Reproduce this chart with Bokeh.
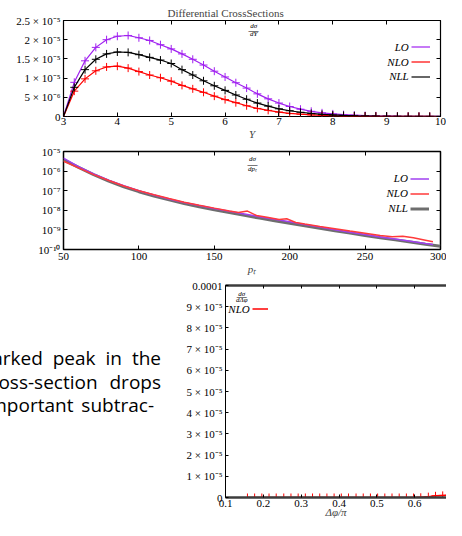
from bokeh.plotting import figure
from bokeh.models import (FixedTicker, LinearAxis, Label, Legend, LegendItem,
                          Div, Range1d)
from bokeh.layouts import column, row
from bokeh.embed import file_html
from bokeh.resources import INLINE

SERIF = "Liberation Serif"
SANS = "Open Sans"
PURPLE = "#a020f0"
RED = "#ff0000"
GREY = "#6e6e6e"

# ---------------- data: dsigma/dY ----------------
rapidity = [3.0, 3.2, 3.4, 3.6, 3.8, 4.0, 4.2, 4.4, 4.6, 4.8, 5.0, 5.2, 5.4, 5.6, 5.8, 6.0,
            6.2, 6.4, 6.6, 6.8, 7.0, 7.2, 7.4, 7.6, 7.8, 8.0, 8.2, 8.4, 8.6, 8.8, 9.0, 9.2,
            9.4, 9.6, 9.8, 10.0]
dY_LO = [0.0, 8.9e-6, 14.5e-6, 18.0e-6, 20.0e-6, 20.9e-6, 21.1e-6, 20.5e-6, 19.8e-6, 18.7e-6,
         17.6e-6, 16.3e-6, 14.9e-6, 13.4e-6, 11.8e-6, 10.3e-6, 8.8e-6, 7.4e-6, 5.9e-6, 4.6e-6,
         3.5e-6, 2.6e-6, 1.9e-6, 1.35e-6, 0.95e-6, 0.68e-6, 0.48e-6, 0.34e-6, 0.24e-6, 0.17e-6,
         0.12e-6, 0.08e-6, 0.055e-6, 0.04e-6, 0.028e-6, 0.02e-6]
dY_NLO = [0.0, 6.6e-6, 9.8e-6, 11.9e-6, 12.9e-6, 13.1e-6, 12.6e-6, 11.7e-6, 10.8e-6, 10.1e-6,
          9.2e-6, 8.1e-6, 7.2e-6, 6.3e-6, 5.3e-6, 4.4e-6, 3.6e-6, 2.8e-6, 2.1e-6, 1.6e-6,
          1.15e-6, 0.8e-6, 0.6e-6, 0.42e-6, 0.3e-6, 0.2e-6, 0.14e-6, 0.1e-6, 0.07e-6, 0.05e-6,
          0.03e-6, 0.02e-6, 0.015e-6, 0.01e-6, 0.007e-6, 0.005e-6]
dY_NLL = [0.0, 7.6e-6, 12.2e-6, 14.9e-6, 16.3e-6, 16.8e-6, 16.7e-6, 16.1e-6, 15.4e-6, 14.7e-6,
          13.8e-6, 12.2e-6, 10.8e-6, 9.3e-6, 8.0e-6, 6.8e-6, 5.6e-6, 4.5e-6, 3.5e-6, 2.7e-6,
          2.0e-6, 1.5e-6, 1.1e-6, 0.8e-6, 0.57e-6, 0.4e-6, 0.28e-6, 0.19e-6, 0.13e-6, 0.09e-6,
          0.06e-6, 0.04e-6, 0.028e-6, 0.02e-6, 0.014e-6, 0.01e-6]
y1_ticks = [0, 5e-6, 1e-5, 1.5e-5, 2e-5, 2.5e-5]
y1_labels = ["0", "5 × 10⁻⁶", "1 × 10⁻⁵", "1.5 × 10⁻⁵", "2 × 10⁻⁵", "2.5 × 10⁻⁵"]
x1_ticks = [3, 4, 5, 6, 7, 8, 9, 10]

# ---------------- data: dsigma/dpt ----------------
pt_LO = [50, 60, 70, 80, 90, 100, 110, 120, 130, 140, 150, 160, 170, 180, 190, 200, 210, 220,
         230, 240, 250, 260, 270, 280, 290, 295]
dpt_LO = [4.6e-6, 1.7e-6, 7.1e-7, 3.4e-7, 1.8e-7, 1.0e-7, 6.0e-8, 3.8e-8, 2.5e-8, 1.74e-8,
          1.23e-8, 8.9e-9, 6.5e-9, 4.7e-9, 3.5e-9, 2.6e-9, 1.9e-9, 1.4e-9, 1.03e-9, 7.6e-10,
          5.8e-10, 4.4e-10, 3.4e-10, 2.6e-10, 2.0e-10, 1.8e-10]
pt_NLO = [50, 60, 70, 80, 90, 100, 110, 120, 130, 140, 150, 160, 166, 172, 178, 185, 193, 198,
          204, 210, 220, 230, 240, 250, 260, 268, 275, 282, 290, 295]
dpt_NLO = [3.2e-6, 1.45e-6, 6.6e-7, 3.3e-7, 1.74e-7, 1.0e-7, 6.2e-8, 4.0e-8, 2.6e-8, 1.82e-8,
           1.29e-8, 9.3e-9, 7.8e-9, 9.1e-9, 5.4e-9, 4.4e-9, 3.4e-9, 3.7e-9, 2.4e-9, 2.0e-9,
           1.51e-9, 1.15e-9, 8.7e-10, 6.8e-10, 5.2e-10, 4.5e-10, 4.7e-10, 4.0e-10, 3.0e-10,
           2.5e-10]
pt_NLL = [50, 60, 70, 80, 90, 100, 110, 120, 130, 140, 150, 160, 170, 180, 190, 200, 210, 220,
          230, 240, 250, 260, 270, 280, 290, 300]
dpt_NLL = [3.8e-6, 1.55e-6, 6.6e-7, 3.1e-7, 1.58e-7, 8.9e-8, 5.4e-8, 3.4e-8, 2.24e-8, 1.51e-8,
           1.07e-8, 7.6e-9, 5.5e-9, 4.0e-9, 2.95e-9, 2.2e-9, 1.62e-9, 1.2e-9, 9.1e-10, 6.9e-10,
           5.2e-10, 4.0e-10, 3.1e-10, 2.4e-10, 1.86e-10, 1.45e-10]
y2_ticks = [1e-10, 1e-9, 1e-8, 1e-7, 1e-6, 1e-5]
y2_labels = ["10⁻¹⁰", "10⁻⁹", "10⁻⁸", "10⁻⁷", "10⁻⁶", "10⁻⁵"]
x2_ticks = [50, 100, 150, 200, 250, 300]

# ---------------- data: dsigma/dDeltaphi ----------------
dphi = [0.158, 0.177, 0.196, 0.215, 0.234, 0.254, 0.273, 0.292, 0.311, 0.330, 0.349, 0.368,
        0.387, 0.406, 0.425, 0.445, 0.464, 0.483, 0.502, 0.521, 0.540, 0.559, 0.578, 0.597,
        0.616, 0.636, 0.655, 0.674, 0.693]
dphi_NLO = [0.0, 0.0, 0.0, 0.0, 0.0, 0.0, 0.0, 0.0, 0.0, 0.0, 0.0, 0.0, 0.0, 0.0, 0.0, 0.0,
            0.0, 0.0, 0.0, 0.0, 0.0, 0.0, 0.0, 0.0, 0.1e-6, 0.4e-6, 0.8e-6, 1.0e-6, 1.1e-6]
y3_ticks = [0, 1e-5, 2e-5, 3e-5, 4e-5, 5e-5, 6e-5, 7e-5, 8e-5, 9e-5, 1e-4]
y3_labels = ["0", "1 × 10⁻⁵", "2 × 10⁻⁵", "3 × 10⁻⁵", "4 × 10⁻⁵", "5 × 10⁻⁵", "6 × 10⁻⁵",
             "7 × 10⁻⁵", "8 × 10⁻⁵", "9 × 10⁻⁵", "0.0001"]
x3_ticks = [0.1, 0.2, 0.3, 0.4, 0.5, 0.6, 0.7]

slide_lines = ["marked peak in the", "cross-section drops", "important subtrac-"]


def style_axis(ax, tick=4):
    ax.major_tick_in = tick
    ax.major_tick_out = 0
    ax.minor_tick_line_color = None
    ax.axis_line_color = None
    ax.major_tick_line_color = "black"
    ax.major_label_text_font = SERIF
    ax.major_label_text_font_size = "11px"
    ax.major_label_text_color = "black"
    ax.major_label_standoff = 3
    ax.axis_label_text_font = SERIF
    ax.axis_label_text_font_style = "italic"
    ax.axis_label_text_font_size = "11px"
    ax.axis_label_standoff = 0


def mirror_axis(p, ticks, place, tick=4):
    ax = LinearAxis(ticker=FixedTicker(ticks=ticks))
    style_axis(ax, tick)
    ax.major_label_overrides = {t: "" for t in ticks}
    ax.major_label_text_font_size = "1px"
    ax.major_label_text_color = None
    ax.major_label_standoff = 0
    p.add_layout(ax, place)
    return ax


def text_label(p, x, y, text, size="11px", align="right", style="italic"):
    p.add_layout(Label(x=x, y=y, text=text, text_align=align, text_baseline="middle",
                       text_font=SERIF, text_font_style=style, text_font_size=size,
                       text_color="black"))


def fraction(p, x, ys, num, den):
    text_label(p, x, ys[0], num, size="7px", align="center")
    text_label(p, x, ys[1], "—", size="10px", align="center", style="normal")
    text_label(p, x, ys[2], den, size="7px", align="center")


def sample_legend(p, renderers, loc, gw=19):
    leg = Legend(items=[LegendItem(label=" ", renderers=[r]) for r in renderers],
                 location=loc, glyph_width=gw, glyph_height=15, label_height=15,
                 label_width=0, label_standoff=0, label_text_font_size="2px",
                 padding=2, spacing=0, margin=0, border_line_color=None,
                 background_fill_alpha=0)
    p.add_layout(leg)


# ---------------- plot 1 ----------------
p1 = figure(width=446, height=142, x_range=Range1d(3, 10), y_range=Range1d(0, 2.5e-5),
            output_backend="svg", toolbar_location=None,
            min_border_left=63, min_border_right=6, min_border_top=20, min_border_bottom=23)
p1.grid.visible = False
p1.outline_line_color = "black"
p1.outline_line_width = 1.2
p1.title.text = "Differential CrossSections"
p1.title.text_font = SERIF
p1.title.text_font_style = "normal"
p1.title.text_font_size = "11px"
p1.title.align = "left"
p1.title.offset = 104
p1.title.standoff = 4
style_axis(p1.xaxis[0])
style_axis(p1.yaxis[0])
p1.xaxis[0].ticker = FixedTicker(ticks=x1_ticks)
p1.xaxis[0].major_label_standoff = 1
p1.yaxis[0].ticker = FixedTicker(ticks=y1_ticks)
p1.yaxis[0].major_label_overrides = dict(zip(y1_ticks, y1_labels))
p1.xaxis[0].axis_label = "Y"
mirror_axis(p1, x1_ticks, "above")
mirror_axis(p1, y1_ticks, "right")

rs = []
for ys, col in ((dY_LO, PURPLE), (dY_NLO, RED), (dY_NLL, "black")):
    rs.append(p1.line(rapidity, ys, line_color=col, line_width=1.2))
    p1.scatter(rapidity, ys, marker="cross", size=8, line_color=col, line_width=1)
sample_legend(p1, rs, (347.5, 31.6))
for txt, yy in (("LO", 1.805e-5), ("NLO", 1.424e-5), ("NLL", 1.043e-5)):
    text_label(p1, 9.41, yy, txt)
fraction(p1, 6.53, (2.345e-5, 2.246e-5, 2.147e-5), "dσ", "dY")

# ---------------- plot 2 ----------------
p2 = figure(width=446, height=135, x_range=Range1d(50, 300), y_range=Range1d(1e-10, 1e-5),
            y_axis_type="log", output_backend="svg", toolbar_location=None,
            min_border_left=63, min_border_right=6, min_border_top=9, min_border_bottom=27)
p2.grid.visible = False
p2.outline_line_color = "black"
p2.outline_line_width = 1.5
style_axis(p2.xaxis[0])
style_axis(p2.yaxis[0])
p2.xaxis[0].ticker = FixedTicker(ticks=x2_ticks)
p2.yaxis[0].ticker = FixedTicker(ticks=y2_ticks)
p2.yaxis[0].major_label_overrides = dict(zip(y2_ticks, y2_labels))
p2.xaxis[0].axis_label = "pₜ"
mirror_axis(p2, x2_ticks, "above")
mirror_axis(p2, y2_ticks, "right")

r_nll = p2.line(pt_NLL, dpt_NLL, line_color=GREY, line_width=3)
r_lo = p2.line(pt_LO, dpt_LO, line_color="#a040f0", line_width=1.5)
r_nlo = p2.line(pt_NLO, dpt_NLO, line_color="#ff3a3a", line_width=1.5)
sample_legend(p2, [r_lo, r_nlo, r_nll], (346.6, 33))
for txt, yy in (("LO", 4.48e-7), ("NLO", 7.85e-8), ("NLL", 1.38e-8)):
    text_label(p2, 278.4, yy, txt)
fraction(p2, 175.3, (4.26e-6, 2.24e-6, 1.23e-6), "dσ", "dpₜ")

# ---------------- plot 3 ----------------
p3 = figure(width=266, height=243, x_range=Range1d(0.1, 0.684), y_range=Range1d(0, 1e-4),
            output_backend="svg", toolbar_location=None,
            min_border_left=45, min_border_right=0, min_border_top=8, min_border_bottom=21)
p3.grid.visible = False
p3.outline_line_color = None
style_axis(p3.xaxis[0], tick=3)
style_axis(p3.yaxis[0], tick=3)
p3.xaxis[0].ticker = FixedTicker(ticks=x3_ticks)
p3.xaxis[0].major_label_standoff = 2
p3.xaxis[0].axis_label_standoff = -4
p3.yaxis[0].ticker = FixedTicker(ticks=y3_ticks)
p3.yaxis[0].major_label_overrides = dict(zip(y3_ticks, y3_labels))
p3.xaxis[0].axis_label = "Δφ/π"
p3.xaxis[0].axis_line_color = "#3c3c3c"
p3.xaxis[0].axis_line_width = 2.5
p3.yaxis[0].axis_line_color = "black"
p3.yaxis[0].axis_line_width = 1
top3 = mirror_axis(p3, x3_ticks, "above", tick=3)
top3.axis_line_color = "#3c3c3c"
top3.axis_line_width = 2.5

r3 = p3.line(dphi, dphi_NLO, line_color=RED, line_width=1.5)
p3.scatter(dphi, dphi_NLO, marker="cross", size=8, line_color=RED, line_width=1)
sample_legend(p3, [r3], (27, 180.6), gw=16)
text_label(p3, 0.164, 8.87e-5, "NLO")
fraction(p3, 0.143, (9.62e-5, 9.47e-5, 9.32e-5), "dσ", "dΔφ")

# ---------------- slide text ----------------
rights = [161, 161, 154]
wspace = [5, 7, 3]
html = ('<div style="position:relative;width:180px;height:243px;overflow:hidden;'
        f'font-family:\'{SANS}\';font-size:19px;color:#000;">')
for i, t in enumerate(slide_lines):
    html += (f'<div style="position:absolute;top:{70 + 23.5 * i}px;right:{180 - rights[i]}px;'
             f'white-space:nowrap;line-height:23px;word-spacing:{wspace[i]}px">{t}</div>')
html += '</div>'
div = Div(text=html, width=180, height=243, margin=(0, 0, 0, 0))

layout = column(p1, p2, row(div, p3, spacing=0), spacing=0)
open("out.html", "w").write(file_html(layout, INLINE))
